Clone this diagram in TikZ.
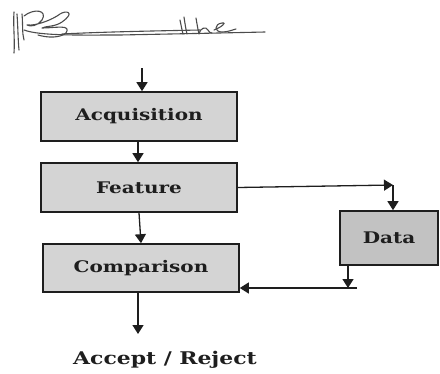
\documentclass[tikz,border=0pt]{standalone}
\usepackage{fontspec}
\setmainfont{DejaVu Serif}
\newfontfamily\labelfont[FakeStretch=1.25]{DejaVu Serif}
\usetikzlibrary{arrows.meta}
\definecolor{boxgray}{HTML}{D4D4D4}
\definecolor{datagray}{HTML}{C2C2C2}
\definecolor{ink}{HTML}{1E1E1E}
\tikzset{
  lbl/.style={font=\labelfont\bfseries\fontsize{16}{19}\selectfont, text=ink},
  block/.style={lbl, draw=ink, line width=1.6pt, fill=boxgray, minimum width=196pt,
    minimum height=49pt, inner sep=0pt},
  flow/.style={draw=ink, line width=1.3pt, -{Triangle[length=9pt,width=11pt]}},
  pen/.style={draw=black!70, line width=1.1pt, line cap=round, line join=round}
}
\begin{document}
\begin{tikzpicture}[x=1pt,y=-1pt]
\useasboundingbox (0,0) rectangle (440,373);

% handwritten signature
\draw[pen] (14,12) .. controls (13,25) and (15,40) .. (14,53);
\draw[pen] (17,14) .. controls (18,28) and (18,40) .. (19,50);
\draw[pen] (22,14) .. controls (23,25) and (22,33) .. (24,40);
\draw[pen] (24,16) .. controls (34,8) and (48,10) .. (42,20)
  .. controls (38,26) and (30,27) .. (27,25)
  .. controls (36,26) and (52,20) .. (60,14)
  .. controls (66,10) and (76,12) .. (62,22)
  .. controls (55,27) and (45,26) .. (42,28)
  .. controls (55,28) and (72,24) .. (66,33)
  .. controls (60,38) and (48,38) .. (38,35);
\draw[pen] (24,30) .. controls (40,36) and (80,35) .. (120,35)
  .. controls (170,34) and (220,33) .. (265,32);
\draw[pen] (62,34) .. controls (100,32) and (150,31) .. (200,30);
\draw[pen] (180,20) .. controls (181,25) and (182,30) .. (183,34);
\draw[pen] (184,17) .. controls (185,24) and (186,30) .. (187,34);
\draw[pen] (196,18) .. controls (197,24) and (198,30) .. (199,34)
  .. controls (200,28) and (206,26) .. (208,30) .. controls (209,32) and (210,33) .. (212,33);
\draw[pen] (214,30) .. controls (220,28) and (228,22) .. (222,23)
  .. controls (214,24) and (214,32) .. (222,32) .. controls (228,32) and (232,30) .. (236,29);

% process blocks
\node[block] (acq)  at (139,116.5) {Acquisition};
\node[block] (feat) at (139,187.5) {Feature};
\node[block, minimum height=48pt] (comp) at (141,268) {Comparison};
\node[block, fill=datagray, minimum width=98pt, minimum height=54pt] (data) at (389,238) {Data};
\node[lbl, font=\labelfont\bfseries\fontsize{17.5}{20}\selectfont, inner sep=0pt] (dec) at (165,360) {Accept / Reject};

% connector end points
\coordinate (topin) at (142,68);
\coordinate (fd) at (393,185);
\coordinate (db) at (348,288);
\coordinate (dend) at (357,288);
\coordinate (out) at (138,334);

% connectors
\draw[flow] (topin) -- (topin |- acq.north);
\draw[flow] (acq.south -| 138,0) -- (feat.north -| 138,0);
\draw[flow] (feat.south) -- (comp.north);
\draw[flow] (comp.south -| out) -- (out);
\draw[flow] (feat.east) -- (fd);
\draw[flow] (fd) -- (fd |- data.north);
\draw[flow] (db |- data.south) -- (db);
\draw[flow] (dend) -- (dend -| comp.east);
\end{tikzpicture}
\end{document}
